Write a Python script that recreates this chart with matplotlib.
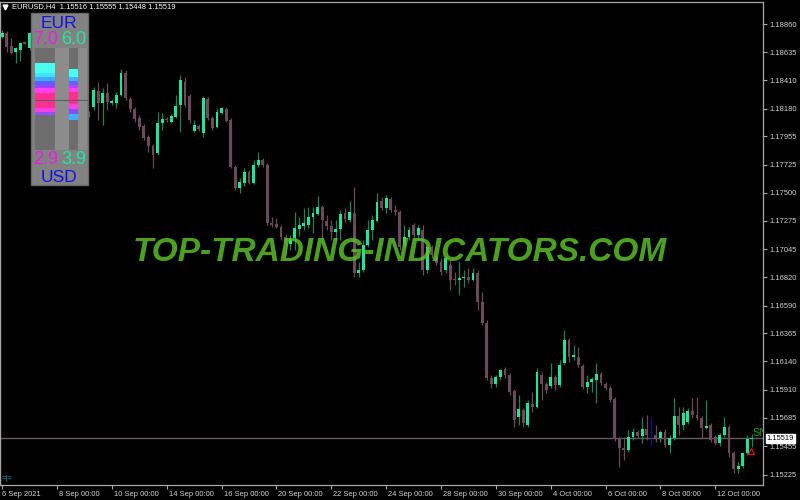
import matplotlib
matplotlib.use("Agg")
import matplotlib.pyplot as plt
import matplotlib.transforms as mtransforms
from matplotlib.patches import Rectangle
import numpy as np

plt.rcParams['font.family'] = ['Liberation Sans', 'DejaVu Sans']

# EURUSD H4 candles, 6 Sep 2021 -> 12 Oct 2021
opens = [
    1.18757, 1.18790, 1.18685, 1.18636, 1.18653, 1.18717, 1.18669, 1.18790, 1.18733, 1.18636,
    1.18669, 1.18572, 1.18491, 1.18523, 1.18427, 1.18346, 1.18370, 1.18281, 1.18209, 1.18144,
    1.18193, 1.18322, 1.18225, 1.18306, 1.18225, 1.18225, 1.18289, 1.18467, 1.18257, 1.18176,
    1.18104, 1.18039, 1.17950, 1.17878, 1.17821, 1.18063, 1.18096, 1.18071, 1.18112, 1.18209,
    1.18394, 1.18281, 1.17999, 1.18039, 1.17983, 1.18257, 1.18104, 1.18031, 1.18144, 1.18176,
    1.18088, 1.17708, 1.17539, 1.17579, 1.17668, 1.17579, 1.17724, 1.17765, 1.17724, 1.17256,
    1.17248, 1.17224, 1.17143, 1.17087, 1.17135, 1.17208, 1.17232, 1.17240, 1.17305, 1.17329,
    1.17385, 1.17273, 1.17232, 1.17184, 1.17208, 1.17337, 1.17281, 1.17337, 1.16853, 1.16877,
    1.17079, 1.17200, 1.17273, 1.17434, 1.17377, 1.17450, 1.17361, 1.17345, 1.17071, 1.17143,
    1.17240, 1.17160, 1.17200, 1.16877, 1.17063, 1.16982, 1.16942, 1.16877, 1.16917, 1.16804,
    1.16796, 1.16813, 1.16821, 1.16796, 1.16853, 1.16619, 1.16449, 1.16006, 1.15957, 1.16014,
    1.16078, 1.16030, 1.15901, 1.15691, 1.15747, 1.15626, 1.15796, 1.15771, 1.16030, 1.15957,
    1.15941, 1.16014, 1.15949, 1.16127, 1.16312, 1.16175, 1.16175, 1.16102, 1.15933, 1.15973,
    1.15989, 1.16038, 1.15957, 1.15925, 1.15836, 1.15513, 1.15441, 1.15424, 1.15529, 1.15570,
    1.15537, 1.15594, 1.15562, 1.15545, 1.15521, 1.15570, 1.15465, 1.15521, 1.15699, 1.15626,
    1.15650, 1.15739, 1.15707, 1.15683, 1.15602, 1.15626, 1.15529, 1.15481, 1.15545, 1.15610,
    1.15400, 1.15271, 1.15295, 1.15400, 1.15516,
]
highs = [
    1.18814, 1.18806, 1.18749, 1.18677, 1.18717, 1.18725, 1.18798, 1.18814, 1.18749, 1.18693,
    1.18685, 1.18588, 1.18548, 1.18540, 1.18443, 1.18394, 1.18386, 1.18297, 1.18233, 1.18160,
    1.18354, 1.18394, 1.18346, 1.18386, 1.18257, 1.18314, 1.18499, 1.18491, 1.18273, 1.18193,
    1.18128, 1.18055, 1.17966, 1.17894, 1.18152, 1.18144, 1.18112, 1.18136, 1.18289, 1.18451,
    1.18435, 1.18297, 1.18088, 1.18055, 1.18281, 1.18273, 1.18120, 1.18184, 1.18193, 1.18193,
    1.18104, 1.17724, 1.17620, 1.17700, 1.17684, 1.17765, 1.17829, 1.17781, 1.17741, 1.17305,
    1.17297, 1.17240, 1.17168, 1.17160, 1.17345, 1.17305, 1.17377, 1.17385, 1.17385, 1.17474,
    1.17402, 1.17321, 1.17281, 1.17281, 1.17361, 1.17377, 1.17434, 1.17547, 1.16942, 1.17119,
    1.17281, 1.17321, 1.17498, 1.17466, 1.17482, 1.17466, 1.17402, 1.17361, 1.17240, 1.17224,
    1.17256, 1.17240, 1.17240, 1.17079, 1.17079, 1.16998, 1.16974, 1.16998, 1.16958, 1.16861,
    1.16942, 1.16877, 1.16893, 1.16893, 1.16877, 1.16700, 1.16474, 1.16030, 1.16030, 1.16078,
    1.16094, 1.16046, 1.15917, 1.15868, 1.15763, 1.15828, 1.15893, 1.16086, 1.16054, 1.15973,
    1.16127, 1.16030, 1.16151, 1.16393, 1.16328, 1.16272, 1.16256, 1.16119, 1.16030, 1.16014,
    1.16127, 1.16054, 1.15973, 1.15941, 1.15852, 1.15529, 1.15529, 1.15586, 1.15602, 1.15586,
    1.15691, 1.15707, 1.15683, 1.15626, 1.15586, 1.15594, 1.15545, 1.15844, 1.15771, 1.15771,
    1.15763, 1.15844, 1.15852, 1.15699, 1.15828, 1.15642, 1.15545, 1.15562, 1.15691, 1.15626,
    1.15416, 1.15328, 1.15408, 1.15545, 1.15555,
]
lows = [
    1.18749, 1.18636, 1.18620, 1.18548, 1.18564, 1.18701, 1.18653, 1.18709, 1.18604, 1.18612,
    1.18548, 1.18467, 1.18475, 1.18402, 1.18322, 1.18330, 1.18257, 1.18184, 1.18128, 1.18112,
    1.18168, 1.18088, 1.18047, 1.18168, 1.18209, 1.18184, 1.18281, 1.18249, 1.18152, 1.18071,
    1.18007, 1.17926, 1.17829, 1.17700, 1.17805, 1.18007, 1.18071, 1.18063, 1.18104, 1.17991,
    1.18193, 1.18063, 1.17991, 1.17999, 1.17950, 1.18088, 1.18007, 1.18023, 1.18136, 1.18071,
    1.17700, 1.17523, 1.17498, 1.17555, 1.17571, 1.17571, 1.17708, 1.17708, 1.17240, 1.17224,
    1.17216, 1.17119, 1.16998, 1.17039, 1.17039, 1.17151, 1.17200, 1.17216, 1.17176, 1.17321,
    1.17079, 1.17200, 1.17119, 1.17119, 1.17119, 1.17264, 1.17264, 1.16821, 1.16821, 1.16861,
    1.17063, 1.17119, 1.17264, 1.17361, 1.17337, 1.17345, 1.17321, 1.17039, 1.17055, 1.17119,
    1.17119, 1.17119, 1.16837, 1.16853, 1.16974, 1.16917, 1.16837, 1.16853, 1.16716, 1.16756,
    1.16675, 1.16740, 1.16772, 1.16788, 1.16554, 1.16433, 1.15989, 1.15925, 1.15933, 1.15989,
    1.16006, 1.15868, 1.15610, 1.15626, 1.15610, 1.15610, 1.15731, 1.15763, 1.15828, 1.15885,
    1.15925, 1.15909, 1.15933, 1.16110, 1.16135, 1.16151, 1.16094, 1.15917, 1.15885, 1.15893,
    1.15804, 1.15949, 1.15909, 1.15812, 1.15497, 1.15287, 1.15344, 1.15408, 1.15505, 1.15521,
    1.15481, 1.15505, 1.15465, 1.15489, 1.15489, 1.15449, 1.15400, 1.15505, 1.15545, 1.15586,
    1.15634, 1.15683, 1.15667, 1.15521, 1.15594, 1.15489, 1.15465, 1.15457, 1.15529, 1.15368,
    1.15239, 1.15239, 1.15279, 1.15384, 1.15448,
]
closes = [
    1.18790, 1.18677, 1.18628, 1.18669, 1.18709, 1.18701, 1.18790, 1.18733, 1.18636, 1.18669,
    1.18572, 1.18491, 1.18523, 1.18427, 1.18346, 1.18370, 1.18281, 1.18209, 1.18152, 1.18128,
    1.18330, 1.18225, 1.18306, 1.18233, 1.18241, 1.18289, 1.18467, 1.18265, 1.18176, 1.18096,
    1.18031, 1.17942, 1.17878, 1.17805, 1.18063, 1.18096, 1.18088, 1.18120, 1.18201, 1.18410,
    1.18209, 1.18088, 1.18047, 1.18015, 1.18265, 1.18104, 1.18023, 1.18152, 1.18184, 1.18080,
    1.17708, 1.17539, 1.17587, 1.17668, 1.17579, 1.17724, 1.17765, 1.17724, 1.17256, 1.17240,
    1.17224, 1.17143, 1.17095, 1.17127, 1.17216, 1.17240, 1.17256, 1.17305, 1.17337, 1.17385,
    1.17281, 1.17232, 1.17184, 1.17208, 1.17329, 1.17289, 1.17345, 1.16853, 1.16877, 1.17079,
    1.17200, 1.17281, 1.17426, 1.17377, 1.17458, 1.17361, 1.17345, 1.17063, 1.17143, 1.17200,
    1.17160, 1.17216, 1.16877, 1.17063, 1.16998, 1.16934, 1.16861, 1.16974, 1.16796, 1.16796,
    1.16813, 1.16821, 1.16796, 1.16853, 1.16619, 1.16449, 1.16006, 1.15957, 1.16014, 1.16070,
    1.16030, 1.15893, 1.15667, 1.15755, 1.15642, 1.15804, 1.15771, 1.16054, 1.15957, 1.15909,
    1.16014, 1.15949, 1.16110, 1.16312, 1.16175, 1.16191, 1.16110, 1.15933, 1.15973, 1.15997,
    1.16038, 1.15965, 1.15925, 1.15828, 1.15513, 1.15441, 1.15424, 1.15529, 1.15570, 1.15537,
    1.15594, 1.15545, 1.15562, 1.15521, 1.15570, 1.15465, 1.15521, 1.15699, 1.15626, 1.15723,
    1.15739, 1.15707, 1.15683, 1.15602, 1.15618, 1.15505, 1.15481, 1.15545, 1.15610, 1.15400,
    1.15271, 1.15295, 1.15400, 1.15513, 1.15519,
]

date_labels = ["6 Sep 2021", "8 Sep 00:00", "10 Sep 00:00", "14 Sep 00:00", "16 Sep 00:00",
               "20 Sep 00:00", "22 Sep 00:00", "24 Sep 00:00", "28 Sep 00:00", "30 Sep 00:00",
               "4 Oct 00:00", "6 Oct 00:00", "8 Oct 00:00", "12 Oct 00:00"]
bars_per_label = 12
price_ticks = [1.18860, 1.18635, 1.18410, 1.18180, 1.17955, 1.17725, 1.17500, 1.17275, 1.17045,
               1.16820, 1.16590, 1.16365, 1.16140, 1.15910, 1.15685, 1.15455, 1.15225]
marked_bar = 142
header = "EURUSD,H4  1.15516 1.15555 1.15448 1.15519"
eur_strength = ["7.0", "6.0"]
usd_strength = ["2.9", "3.9"]

BULL, BULL_WICK = "#1ee59c", "#16845a"
BEAR = "#6b4a5b"
MAGENTA, TEAL, BLUE = "#e81ee8", "#1ee8a2", "#1212e8"

o, h, l, c = (np.array(a) for a in (opens, highs, lows, closes))
x = np.arange(len(c))
up = c >= o
body_col = np.where(up, BULL, BEAR).astype(object)
wick_col = np.where(up, BULL_WICK, BEAR).astype(object)
body_col[marked_bar] = wick_col[marked_bar] = "#14148c"

fig = plt.figure(figsize=(8, 5), dpi=100, facecolor="black")
ax = fig.add_axes([0, 15 / 500, 763 / 800, 483 / 500], facecolor="black")

ax.axhline(c[-1], color="#6a5a64", linewidth=1, zorder=1)
ax.vlines(x, l, h, colors=list(wick_col), linewidth=0.9, zorder=2)
ax.bar(x, np.maximum(np.abs(c - o), 0.00009), bottom=np.minimum(o, c), width=0.64,
       color=list(body_col), linewidth=0, zorder=3)

ax.set_xlim(-0.46, 166.43)
ax.set_ylim(1.15142, 1.19040)

ax.yaxis.tick_right()
ax.set_yticks(price_ticks)
ax.set_yticklabels([f"{p:.5f}" for p in price_ticks])
ax.set_xticks(np.arange(len(date_labels)) * bars_per_label)
ax.set_xticklabels(date_labels, ha="left")
ax.tick_params(axis="both", colors="#a8a8a8", labelcolor="#d4d4d4", labelsize=5.4,
               length=3, width=0.8, pad=1.5)
shift = mtransforms.ScaledTranslation(2 / 100, 0, fig.dpi_scale_trans)
for lbl in ax.get_xticklabels()[1:]:
    lbl.set_transform(lbl.get_transform() + shift)
for side in ax.spines.values():
    side.set_color("#a8a8a8")
    side.set_linewidth(0.9)

ax.annotate(f"{c[-1]:.5f}", xy=(1, c[-1]), xycoords=("axes fraction", "data"),
            xytext=(2.5, 0), textcoords="offset points", va="center", ha="left",
            fontsize=5.4, color="black", annotation_clip=False,
            bbox=dict(boxstyle="square,pad=0.12", fc="white", ec="white"))
ax.text(len(c) - 0.8, c[-1] + 0.00004, "SN", color="#12a012", fontsize=8,
        va="bottom", ha="left", clip_on=True, zorder=5)
ax.plot(len(c) - 1.3, 1.15416, marker="^", ms=4, mew=0.9, fillstyle="none",
        color="#e01010", zorder=5)

# overlay in pixel units for header, currency panel and watermark
ov = fig.add_axes([0, 0, 1, 1])
ov.set_xlim(0, 800)
ov.set_ylim(500, 0)
ov.axis("off")

ov.text(400, 261, "TOP-TRADING-INDICATORS.COM", color="#5cc526", alpha=0.82,
        fontsize=24, fontweight="bold", fontstyle="italic", ha="center", va="baseline")

ov.plot(5, 6.5, marker="v", ms=3.5, color="white")
ov.text(12, 7, header, color="white", fontsize=5.4, va="center", ha="left")
ov.text(2, 478, "=|=", color="#1ea0a8", fontsize=5.5, va="center", ha="left")

ov.add_patch(Rectangle((30.5, 13), 57.5, 172, fc="#828282", ec="#6a6a6a", lw=1))
for x0, w, col in [(35, 20, "#6e6e6e"), (55, 13.7, "#8c8c8c"),
                   (68.7, 9.6, "#6e6e6e"), (78.3, 8.7, "#8c8c8c")]:
    ov.add_patch(Rectangle((x0, 48), w, 102, fc=col, lw=0))

left_stripes = [("#48fff0", 10), ("#40e4ff", 4), ("#40a8ff", 4), ("#5a60ff", 4), ("#a040ff", 3),
                ("#ff40f0", 5), ("#ff3090", 15), ("#ff40e0", 4), ("#9050ff", 3)]
right_stripes = [("#48fff0", 8), ("#40b0ff", 4), ("#6a60ff", 4), ("#c040ff", 3), ("#ff40f0", 4),
                 ("#ff3090", 12), ("#ff40e0", 5), ("#8050ff", 5), ("#40b0ff", 6)]
for x0, w, y0, stripes in [(35, 20, 63, left_stripes), (68.7, 9.6, 69, right_stripes)]:
    y = y0
    for col, hgt in stripes:
        ov.add_patch(Rectangle((x0, y), w, hgt, fc=col, lw=0))
        y += hgt
ov.plot([35, 87], [99.5, 99.5], color="#5e5e5e", lw=0.8)

ov.text(59, 23, "EUR", color=BLUE, fontsize=12.5, ha="center", va="center")
ov.text(46, 40, eur_strength[0], color=MAGENTA, fontsize=13, ha="center", va="center")
ov.text(73.5, 40, eur_strength[1], color=TEAL, fontsize=13, ha="center", va="center")
ov.text(46, 160, usd_strength[0], color=MAGENTA, fontsize=13, ha="center", va="center")
ov.text(73.5, 160, usd_strength[1], color=TEAL, fontsize=13, ha="center", va="center")
ov.text(59, 177, "USD", color=BLUE, fontsize=12.5, ha="center", va="center")

fig.savefig("out.png", dpi=100, facecolor="black")
